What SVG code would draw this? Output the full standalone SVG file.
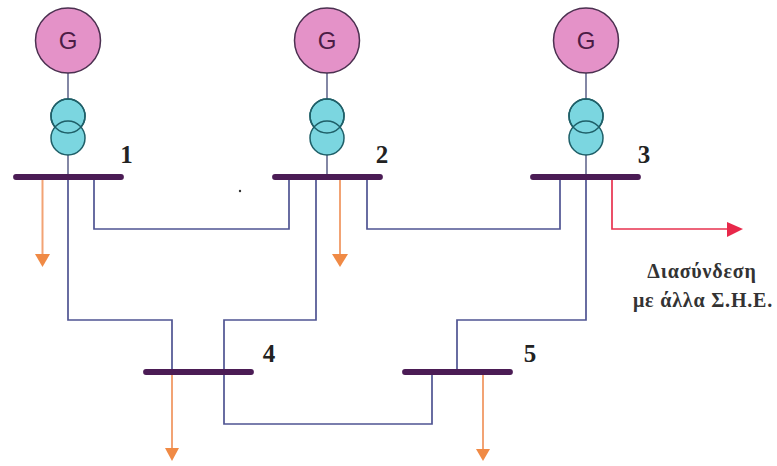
<svg xmlns="http://www.w3.org/2000/svg" width="777" height="466" viewBox="0 0 777 466">
<style>
.wire{fill:none;stroke:#4f5492;stroke-width:1.7}
.stem{fill:none;stroke:#6f7396;stroke-width:1.7}
.load{fill:none;stroke:#f2a374;stroke-width:2}
.head{fill:#f08a45}
.bus{stroke:#4b1c55;stroke-width:5.800;stroke-linecap:round}
.gen{fill:#e492c8;stroke:#4b3050;stroke-width:1.5}
.tr{fill:#7bd6e0;stroke:#1f5f68;stroke-width:1.5}
.trl{fill:none;stroke:#1f5f68;stroke-width:1.5}
.g{font:24px "Liberation Sans",Arial,sans-serif;fill:#4b1c45;text-anchor:middle}
.n{font:bold 25px "Liberation Serif","Times New Roman",serif;fill:#222;text-anchor:middle}
.c{font:bold 20px "Liberation Serif","Times New Roman",serif;fill:#333;text-anchor:middle;letter-spacing:0.800px}
</style>
<rect width="777" height="466" fill="#fff"/>
<g id="connectors">
<path class="stem" d="M68 73V176M327 73V176M586 73V176"/>
<path class="wire" d="M94 176V229H289V176"/>
<path class="wire" d="M68 176V320H172V372"/>
<path class="wire" d="M316 176V320H224V424H432V372"/>
<path class="wire" d="M367 176V229H560V176"/>
<path class="wire" d="M586 176V320H457V372"/>
<path class="load" d="M42.500 176V256"/><polygon class="head" points="35,254 50,254 42.500,267"/>
<path class="load" d="M340 176V256"/><polygon class="head" points="332,254 348,254 340,267"/>
<path class="load" d="M172 372V450"/><polygon class="head" points="165,448 179,448 172,461"/>
<path class="load" d="M483 372V450"/><polygon class="head" points="476,449 490,449 483,461"/>
<path d="M612 176V229H728" fill="none" stroke="#e8324f" stroke-width="1.700"/><polygon points="727,222 743,229 727,237" fill="#e8284a"/>
</g>
<g id="node-1">
<circle class="gen" cx="68" cy="40.500" r="32.500"/><text class="g" x="68" y="49">G</text>
<circle class="tr" cx="68" cy="116" r="17"/><circle class="tr" cx="68" cy="138" r="17"/><circle class="trl" cx="68" cy="116" r="17"/>
<line class="bus" x1="16" y1="177" x2="121" y2="177"/><text class="n" x="126.500" y="163">1</text>
</g>
<g id="node-2">
<circle class="gen" cx="327" cy="40.500" r="32.500"/><text class="g" x="327" y="49">G</text>
<circle class="tr" cx="327" cy="116" r="17"/><circle class="tr" cx="327" cy="138" r="17"/><circle class="trl" cx="327" cy="116" r="17"/>
<line class="bus" x1="275" y1="177" x2="380" y2="177"/><text class="n" x="382" y="163">2</text>
</g>
<g id="node-3">
<circle class="gen" cx="586" cy="40.500" r="32.500"/><text class="g" x="586" y="49">G</text>
<circle class="tr" cx="586" cy="116" r="17"/><circle class="tr" cx="586" cy="138" r="17"/><circle class="trl" cx="586" cy="116" r="17"/>
<line class="bus" x1="533" y1="177" x2="638" y2="177"/><text class="n" x="644" y="163">3</text>
</g>
<g id="node-4">
<line class="bus" x1="146" y1="372" x2="251" y2="372"/><text class="n" x="269" y="362">4</text>
</g>
<g id="node-5">
<line class="bus" x1="405" y1="372" x2="510" y2="372"/><text class="n" x="530" y="362">5</text>
</g>
<circle cx="240" cy="191" r="1.200" fill="#333"/>
<g id="label">
<text class="c" x="702" y="278">Διασύνδεση</text>
<text class="c" x="703" y="307">με άλλα Σ.Η.Ε.</text>
</g>
</svg>
